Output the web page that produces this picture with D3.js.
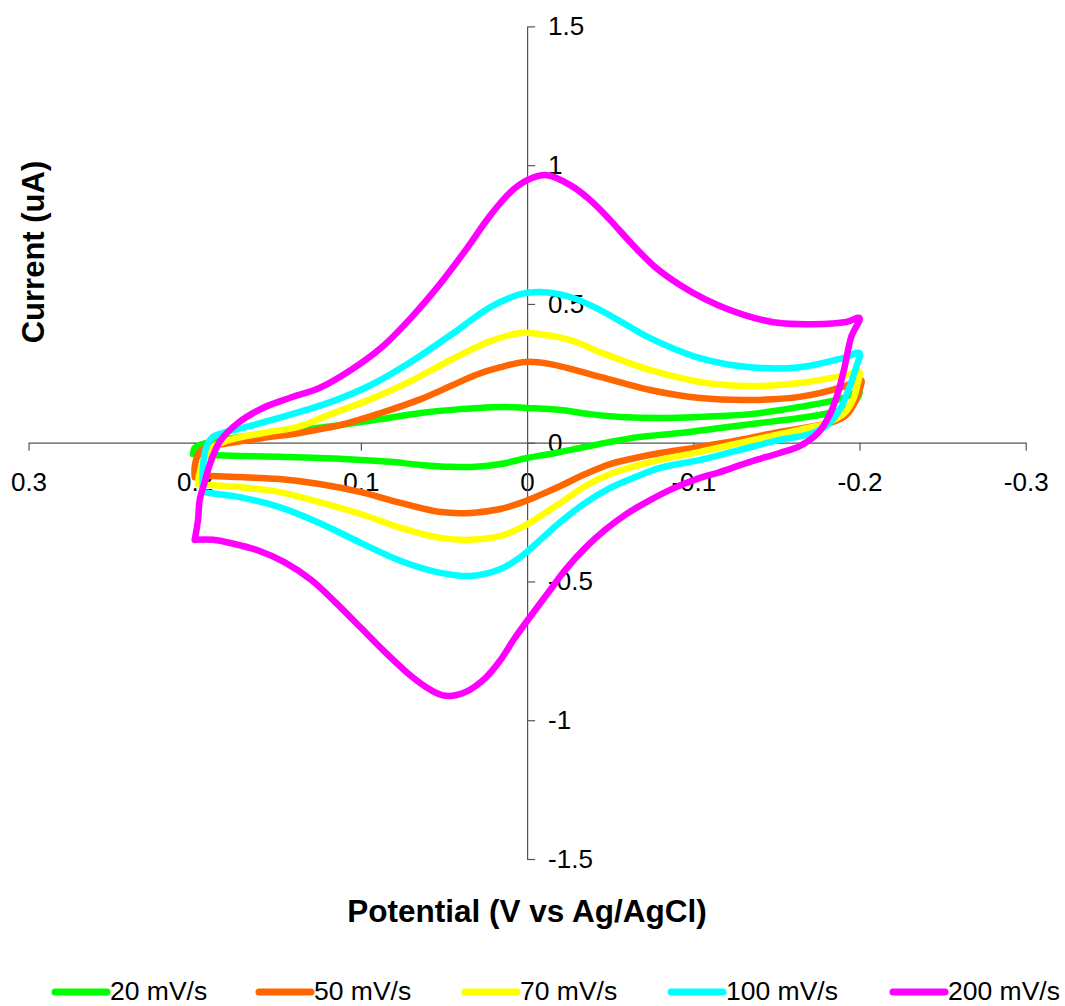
<!DOCTYPE html>
<html>
<head>
<meta charset="utf-8">
<script src="https://cdn.jsdelivr.net/npm/d3@7"></script>
<style>
  html, body { margin: 0; padding: 0; background: #fff; }
  svg { display: block; font-family: "Liberation Sans", Arial, sans-serif; }
</style>
</head>
<body>
<svg id="chart" width="1065" height="1006"></svg>
<script>
// Cyclic voltammograms, [potential V, current uA], forward sweep then reverse sweep
const cv20 = [
  [0.201,-0.041],[0.200,-0.019],[0.197,-0.008],[0.177,0.017],[0.158,0.031],[0.137,0.046],
  [0.112,0.064],[0.088,0.085],[0.064,0.107],[0.040,0.121],[0.016,0.129],[0.000,0.125],
  [-0.020,0.118],[-0.038,0.103],[-0.056,0.093],[-0.080,0.089],[-0.104,0.093],[-0.134,0.103],
  [-0.164,0.129],[-0.188,0.157],[-0.200,0.183],
  [-0.198,0.154],[-0.193,0.125],[-0.182,0.107],[-0.164,0.089],[-0.140,0.071],[-0.116,0.053],
  [-0.092,0.035],[-0.068,0.021],[-0.050,0.003],[-0.032,-0.019],[-0.017,-0.037],[0.000,-0.055],
  [0.016,-0.077],[0.031,-0.087],[0.046,-0.087],[0.064,-0.080],[0.082,-0.069],[0.100,-0.062],
  [0.125,-0.055],[0.149,-0.051],[0.173,-0.048],[0.191,-0.044],[0.201,-0.041]
];
const cv50 = [
  [0.200,-0.124],[0.200,-0.087],[0.198,-0.044],[0.194,-0.019],[0.179,-0.001],[0.159,0.017],
  [0.137,0.035],[0.112,0.064],[0.088,0.107],[0.064,0.157],[0.046,0.204],[0.031,0.244],
  [0.016,0.272],[0.001,0.291],[-0.014,0.283],[-0.044,0.237],[-0.074,0.190],[-0.104,0.161],
  [-0.134,0.154],[-0.164,0.165],[-0.190,0.201],[-0.201,0.226],
  [-0.200,0.190],[-0.197,0.143],[-0.192,0.100],[-0.184,0.075],[-0.170,0.057],[-0.152,0.039],
  [-0.128,0.010],[-0.104,-0.015],[-0.080,-0.037],[-0.065,-0.055],[-0.050,-0.077],[-0.035,-0.113],
  [-0.020,-0.156],[-0.008,-0.188],[0.004,-0.217],[0.016,-0.239],[0.034,-0.253],[0.052,-0.250],
  [0.076,-0.217],[0.100,-0.178],[0.125,-0.149],[0.149,-0.131],[0.173,-0.124],[0.191,-0.120],
  [0.200,-0.124]
];
const cv70 = [
  [0.198,-0.149],[0.197,-0.106],[0.194,-0.051],[0.189,-0.015],[0.179,0.010],[0.159,0.035],
  [0.138,0.057],[0.118,0.103],[0.094,0.157],[0.070,0.222],[0.046,0.298],[0.022,0.366],
  [0.004,0.395],[-0.008,0.391],[-0.026,0.370],[-0.044,0.326],[-0.074,0.262],[-0.104,0.219],
  [-0.134,0.204],[-0.164,0.215],[-0.192,0.244],[-0.200,0.255],
  [-0.199,0.215],[-0.196,0.154],[-0.191,0.107],[-0.182,0.075],[-0.164,0.046],[-0.152,0.031],
  [-0.128,-0.001],[-0.104,-0.033],[-0.080,-0.062],[-0.065,-0.084],[-0.050,-0.113],[-0.035,-0.156],
  [-0.020,-0.217],[-0.008,-0.264],[0.004,-0.307],[0.016,-0.336],[0.034,-0.350],[0.052,-0.343],
  [0.076,-0.307],[0.100,-0.257],[0.125,-0.214],[0.149,-0.178],[0.173,-0.160],[0.191,-0.152],
  [0.198,-0.149]
];
const cv100 = [
  [0.195,-0.178],[0.195,-0.087],[0.193,-0.015],[0.189,0.021],[0.183,0.035],[0.167,0.060],
  [0.143,0.100],[0.118,0.147],[0.094,0.208],[0.070,0.291],[0.046,0.388],[0.022,0.489],
  [0.004,0.535],[-0.008,0.543],[-0.026,0.525],[-0.044,0.478],[-0.074,0.377],[-0.104,0.305],
  [-0.134,0.272],[-0.164,0.272],[-0.190,0.305],[-0.200,0.323],
  [-0.198,0.272],[-0.194,0.201],[-0.189,0.129],[-0.182,0.071],[-0.172,0.035],[-0.152,0.010],
  [-0.128,-0.026],[-0.104,-0.062],[-0.080,-0.091],[-0.065,-0.124],[-0.050,-0.163],[-0.035,-0.217],
  [-0.020,-0.286],[-0.008,-0.350],[0.004,-0.412],[0.016,-0.455],[0.034,-0.480],[0.052,-0.469],
  [0.076,-0.426],[0.100,-0.361],[0.125,-0.289],[0.149,-0.232],[0.173,-0.196],[0.191,-0.181],
  [0.195,-0.178]
];
const cv200 = [
  [0.200,-0.350],[0.198,-0.278],[0.197,-0.206],[0.194,-0.142],[0.191,-0.080],[0.185,0.003],
  [0.174,0.071],[0.159,0.125],[0.143,0.161],[0.125,0.197],[0.106,0.262],[0.088,0.341],
  [0.070,0.449],[0.052,0.575],[0.037,0.694],[0.022,0.820],[0.010,0.903],[0.000,0.946],
  [-0.012,0.964],[-0.026,0.928],[-0.038,0.874],[-0.050,0.802],[-0.062,0.723],[-0.077,0.633],
  [-0.092,0.568],[-0.107,0.517],[-0.122,0.478],[-0.137,0.449],[-0.152,0.431],[-0.172,0.427],
  [-0.192,0.435],[-0.200,0.449],
  [-0.195,0.381],[-0.191,0.272],[-0.187,0.179],[-0.182,0.100],[-0.175,0.035],[-0.164,-0.012],
  [-0.152,-0.037],[-0.134,-0.069],[-0.116,-0.106],[-0.104,-0.127],[-0.086,-0.170],[-0.071,-0.217],
  [-0.059,-0.260],[-0.047,-0.314],[-0.035,-0.379],[-0.023,-0.458],[-0.013,-0.538],[-0.004,-0.610],
  [0.007,-0.700],[0.016,-0.783],[0.025,-0.847],[0.037,-0.898],[0.049,-0.912],[0.058,-0.891],
  [0.070,-0.840],[0.085,-0.757],[0.100,-0.667],[0.115,-0.577],[0.130,-0.494],[0.146,-0.430],
  [0.161,-0.390],[0.176,-0.365],[0.189,-0.350],[0.200,-0.350]
];

const seriesLabels = ["20 mV/s", "50 mV/s", "70 mV/s", "100 mV/s", "200 mV/s"];
const seriesData = [cv20, cv50, cv70, cv100, cv200];
const seriesColors = ["#00ff00", "#ff6600", "#ffff00", "#00ffff", "#ff00ff"];

const xTicks = [0.3, 0.2, 0.1, 0, -0.1, -0.2, -0.3];
const yTicks = [1.5, 1, 0.5, 0, -0.5, -1, -1.5];

const svg = d3.select("#chart");

// Potential axis runs from positive (left) to negative (right)
const x = d3.scaleLinear().domain([0.3, -0.3]).range([28.5, 1025.7]);
const y = d3.scaleLinear().domain([1.5, -1.5]).range([26.4, 859]);

const axisColor = "#555";
const tickFont = 26;

// Horizontal axis crossing at zero current
const gx = svg.append("g")
  .attr("transform", `translate(0,${y(0)})`)
  .call(d3.axisBottom(x).tickValues(xTicks).tickSize(8).tickSizeOuter(0)
    .tickPadding(22).tickFormat(d => String(d)));

// Vertical axis crossing at zero potential
const gy = svg.append("g")
  .attr("transform", `translate(${x(0)},0)`)
  .call(d3.axisRight(y).tickValues(yTicks).tickSize(8).tickSizeOuter(0)
    .tickPadding(13).tickFormat(d => String(d)));

[gx, gy].forEach(g => {
  g.select(".domain").attr("stroke", axisColor).attr("stroke-width", 1.2);
  g.selectAll(".tick line").attr("stroke", axisColor).attr("stroke-width", 1.2);
  g.selectAll(".tick text")
    .attr("fill", "#000")
    .style("font-size", tickFont + "px")
    .style("font-family", "'Liberation Sans', Arial, sans-serif");
});

// Voltammogram loops
const line = d3.line()
  .x(d => x(d[0]))
  .y(d => y(d[1]))
  .curve(d3.curveCatmullRom.alpha(0.5));

svg.append("g").selectAll("path")
  .data(seriesData)
  .join("path")
  .attr("d", line)
  .attr("fill", "none")
  .attr("stroke", (d, i) => seriesColors[i])
  .attr("stroke-width", 6.5)
  .attr("stroke-linejoin", "round")
  .attr("stroke-linecap", "round");

// Axis titles
svg.append("text")
  .attr("x", 527)
  .attr("y", 922)
  .attr("text-anchor", "middle")
  .style("font-size", "31.5px")
  .style("font-weight", "bold")
  .text("Potential (V vs Ag/AgCl)");

svg.append("text")
  .attr("transform", "translate(44,252) rotate(-90)")
  .attr("text-anchor", "middle")
  .style("font-size", "31px")
  .style("font-weight", "bold")
  .text("Current (uA)");

// Legend along the bottom
const legendX = [55, 259, 465, 671, 893];
const legend = svg.append("g").selectAll("g")
  .data(seriesLabels)
  .join("g")
  .attr("transform", (d, i) => `translate(${legendX[i]},992)`);

legend.append("line")
  .attr("x1", 0).attr("x2", 52)
  .attr("y1", 0).attr("y2", 0)
  .attr("stroke", (d, i) => seriesColors[i])
  .attr("stroke-width", 7)
  .attr("stroke-linecap", "round");

legend.append("text")
  .attr("x", 55)
  .attr("y", 8)
  .style("font-size", "26.5px")
  .text(d => d);
</script>
</body>
</html>
